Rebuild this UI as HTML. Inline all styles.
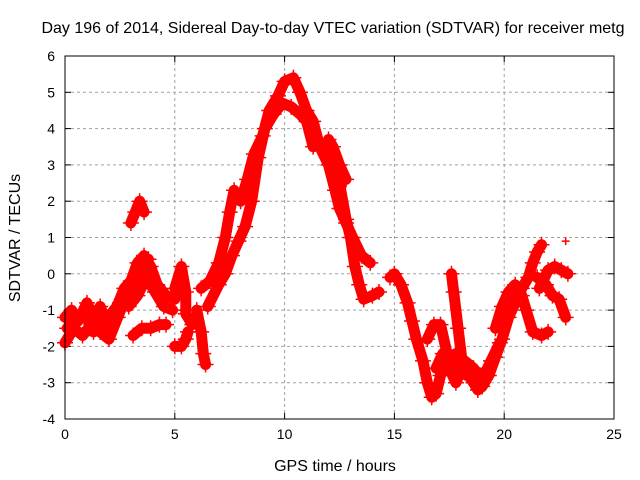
<!DOCTYPE html>
<html><head><meta charset="utf-8"><style>
body{margin:0;background:#fff}
svg{display:block;font-family:"Liberation Sans",sans-serif}
</style></head><body>
<svg id="chart" width="640" height="480">
<text x="333" y="33" font-size="16" text-anchor="middle">Day 196 of 2014, Sidereal Day-to-day VTEC variation (SDTVAR) for receiver metg</text>
<text x="335" y="471" font-size="16" text-anchor="middle">GPS time / hours</text>
<text x="20" y="238" font-size="16" text-anchor="middle" transform="rotate(-90 20 238)">SDTVAR / TECUs</text>
<g id="grid"></g>
<g id="ticks"></g>
<g id="marks"></g>
<rect x="65" y="56" width="549" height="363" fill="none" stroke="#000" stroke-width="1"/>
</svg>
<script>
const xTicks=[0,5,10,15,20,25];
const yTicks=[-4,-3,-2,-1,0,1,2,3,4,5,6];
const trackA=[[0,-1.2],[0.3,-1.0],[0.6,-1.3],[1.0,-0.8],[1.3,-1.2],[1.6,-0.9],[2.0,-1.5],[2.3,-1.0],[2.7,-0.4],[3.0,-0.2],[3.3,0.3],[3.6,0.5],[3.9,0.2],[4.2,-0.3],[4.6,-0.6],[5.0,-0.7],[5.3,-0.3]];
const trackB=[[0,-1.9],[0.4,-1.5],[0.8,-1.7],[1.2,-1.4],[1.6,-1.6],[2.0,-1.8],[2.4,-1.2],[2.8,-0.6],[3.2,-0.4],[3.5,0.0],[3.8,0.4]];
const trackQ=[[0.1,-1.5],[0.5,-1.2],[0.9,-1.1],[1.3,-1.6],[1.7,-1.3],[2.1,-1.1],[2.5,-0.8],[2.9,-0.9],[3.3,-0.6],[3.7,-0.1],[4.1,-0.5],[4.5,-0.9],[4.9,-1.0]];
const trackC=[[3.0,1.4],[3.2,1.7],[3.4,2.0],[3.6,1.7]];
const trackD=[[3.1,-1.7],[3.5,-1.5],[3.9,-1.5],[4.3,-1.4],[4.6,-1.4]];
const trackE=[[5.0,-2.0],[5.3,-2.0],[5.5,-1.8],[5.6,-1.6]];
const trackF=[[5.0,-0.4],[5.3,0.2],[5.5,-0.5],[5.5,-1.1],[5.8,-1.4]];
const trackG=[[6.0,-1.0],[6.2,-1.6],[6.3,-2.2],[6.4,-2.5]];
const trackH=[[6.2,-0.4],[6.6,-0.2],[7.0,0.3],[7.3,1.0],[7.5,1.7],[7.7,2.3],[8.0,2.0],[8.3,2.6],[8.6,3.3],[9.0,3.8],[9.3,4.5],[9.7,4.9],[10.0,5.3],[10.4,5.4],[10.7,5.0],[11.0,4.5],[11.3,4.2],[11.6,3.5],[12.0,3.0],[12.3,2.3],[12.5,1.8],[12.8,1.4],[13.1,1.0],[13.5,0.5],[13.9,0.3]];
const trackI=[[6.5,-0.9],[7.0,-0.3],[7.3,0.0],[7.6,0.5],[7.9,0.9],[8.2,1.3],[8.5,2.0],[8.8,3.2],[9.1,4.0],[9.5,4.4],[9.9,4.7],[10.3,4.6],[10.7,4.4],[11.0,4.2],[11.3,3.5],[11.6,3.6],[11.9,3.3],[12.2,3.0],[12.5,2.5],[12.8,1.5],[13.0,1.0],[13.2,0.2],[13.4,-0.3],[13.6,-0.7],[14.0,-0.6],[14.3,-0.5]];
const trackJ=[[12.0,3.7],[12.2,3.5],[12.5,3.0],[12.8,2.6]];
const trackK=[[14.8,-0.1],[15.0,0.0],[15.3,-0.3],[15.6,-0.8],[15.8,-1.3],[16.0,-1.8],[16.3,-2.4],[16.5,-3.0],[16.7,-3.4],[16.9,-3.3],[17.1,-2.8],[17.3,-2.5],[17.5,-2.3],[17.8,-2.2],[18.0,-2.5],[18.3,-2.7],[18.6,-3.0],[18.8,-3.2],[19.0,-3.1],[19.3,-2.8],[19.6,-2.3],[19.9,-1.8],[20.2,-1.2],[20.5,-0.8],[20.8,-0.4],[21.1,-0.1],[21.3,0.3],[21.5,0.6],[21.7,0.8]];
const trackL=[[16.5,-1.8],[16.8,-1.4],[17.1,-1.4],[17.4,-2.2],[17.7,-2.7],[17.9,-2.8]];
const trackM=[[17.6,0.0],[17.7,-0.5],[17.9,-1.5],[18.1,-2.5],[18.3,-2.8]];
const trackR=[[16.9,-2.6],[17.2,-2.2],[17.5,-2.6],[17.8,-3.0],[18.2,-2.4],[18.6,-2.6],[19.0,-2.9],[19.4,-2.4],[19.8,-1.9]];
const trackN=[[19.6,-1.5],[19.9,-0.9],[20.2,-0.5],[20.5,-0.3],[20.8,-0.6],[21.0,-1.0],[21.3,-1.6],[21.7,-1.7],[22.0,-1.6]];
const trackO=[[21.5,-0.1],[21.9,-0.3],[22.2,-0.6],[22.5,-0.7],[22.8,-1.2]];
const trackP=[[21.6,-0.4],[22.0,0.1],[22.3,0.2],[22.6,0.1],[22.9,0.0]];
const isolated=[[22.8,0.9]];
const tracks=[trackA,trackB,trackQ,trackC,trackD,trackE,trackF,trackG,trackH,trackI,trackJ,trackK,trackL,trackM,trackR,trackN,trackO,trackP];

const X0=65,X1=614,Y0=419,Y1=56;
const sx=v=>X0+(v-0)/(25-0)*(X1-X0);
const sy=v=>Y0-(v-(-4))/(6-(-4))*(Y0-Y1);
const NS="http://www.w3.org/2000/svg";
const grid=document.getElementById('grid'),ticks=document.getElementById('ticks'),marks=document.getElementById('marks');
function mk(t,a,p){const e=document.createElementNS(NS,t);for(const k in a)e.setAttribute(k,a[k]);p.appendChild(e);return e;}
xTicks.forEach(t=>{const x=sx(t);
 if(t>0&&t<25){const g=mk('line',{x1:x,x2:x,y1:Y1,y2:Y0,stroke:'#a0a0a0','stroke-dasharray':'3,3'},grid);
 
 }
 const l=mk('text',{x:x,y:Y0+20,'font-size':14,'text-anchor':'middle'},ticks);l.textContent=t;
 
 
 mk('line',{x1:x,x2:x,y1:Y0,y2:Y0-6,stroke:'#000'},ticks);mk('line',{x1:x,x2:x,y1:Y1,y2:Y1+6,stroke:'#000'},ticks);});
yTicks.forEach(t=>{const y=sy(t);
 if(t>-4&&t<6){const g=mk('line',{x1:X0,x2:X1,y1:y,y2:y,stroke:'#a0a0a0','stroke-dasharray':'3,3'},grid);
 
 }
 const l=mk('text',{x:X0-10,y:y+5,'font-size':14,'text-anchor':'end'},ticks);l.textContent=t;
 
 
 mk('line',{x1:X0,x2:X0+6,y1:y,y2:y,stroke:'#000'},ticks);mk('line',{x1:X1,x2:X1-6,y1:y,y2:y,stroke:'#000'},ticks);});
function plus(x,y,s,p){mk('path',{d:`M${x-s},${y}H${x+s}M${x},${y-s}V${y+s}`,stroke:'#f00','stroke-width':1.5},p);}
tracks.forEach((tr,i)=>{
 const pts=tr.map(d=>sx(d[0])+','+sy(d[1])).join(' ');
 const pl=mk('polyline',{points:pts,fill:'none',stroke:'#f00','stroke-width':11,'stroke-linejoin':'round','stroke-linecap':'round'},marks);
 
 
 tr.forEach(d=>plus(sx(d[0]),sy(d[1]),8,marks));
});
isolated.forEach(d=>{const g=mk('g',{},marks);
 
 
 plus(sx(d[0]),sy(d[1]),4,g);});
</script>
</body></html>
